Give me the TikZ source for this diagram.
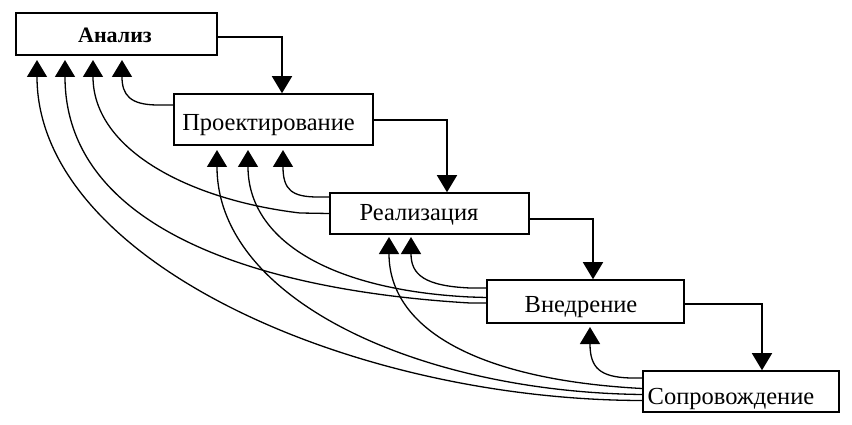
\documentclass[tikz,border=0pt]{standalone}
\usepackage{fontspec}
\setmainfont{Liberation Serif}
\usetikzlibrary{arrows.meta}
\begin{document}
\begin{tikzpicture}[x=1pt,y=-1pt,
  box/.style={draw, line width=1.6pt, inner sep=0pt, rectangle},
  lbl/.style={anchor=base, inner sep=0pt, font=\fontsize{24.5}{29}\selectfont},
  fwd/.style={line width=1.5pt, -{Triangle[width=20pt,length=17pt]}},
  fb/.style={line width=1.3pt, -{Triangle[width=20pt,length=17pt]}}]
\useasboundingbox (0,0) rectangle (852,425);
% boxes
\node[box, minimum width=201pt, minimum height=42pt] (an) at (116.5,34) {};
\node[box, minimum width=199pt, minimum height=51pt] (pr) at (273.5,119.5) {};
\node[box, minimum width=199pt, minimum height=41pt] (re) at (429.5,213.5) {};
\node[box, minimum width=197pt, minimum height=43pt] (vn) at (585.5,301.5) {};
\node[box, minimum width=196pt, minimum height=41pt] (so) at (741,391.5) {};
% labels
\node[lbl, font=\fontsize{22}{26}\selectfont\bfseries] (tan) at (115,43) {Анализ};
\node[lbl] (tpr) at (268.5,131) {Проектирование};
\node[lbl] (tre) at (419,221) {Реализация};
\node[lbl] (tvn) at (581,312) {Внедрение};
\node[lbl] (tso) at (731,404) {Сопровождение};
% forward connectors
\draw[fwd] ([yshift=-3pt]an.east) -| ([xshift=8.5pt]pr.north);
\draw[fwd] ([yshift=-0.5pt]pr.east) -| ([xshift=17.5pt]re.north);
\draw[fwd] ([yshift=-5.5pt]re.east) -| ([xshift=7.5pt]vn.north);
\draw[fwd] ([yshift=-2.5pt]vn.east) -| ([xshift=21pt]so.north);
% arrow tips of feedback connectors
\coordinate (ta1) at (122,60);
\coordinate (ta2) at (93,60);
\coordinate (ta3) at (65,60);
\coordinate (ta4) at (37,60);
\coordinate (tp1) at (283,150);
\coordinate (tp2) at (248,150);
\coordinate (tp3) at (217,150);
\coordinate (tr1) at (411,237);
\coordinate (tr2) at (389,237);
\coordinate (tv1) at (590,327);
% feedback connectors to Analysis
\draw[fb] ([yshift=14.5pt]pr.west) -- (158,105) .. controls (130,105) and (122,95) .. (ta1);
\draw[fb] (re.west) -- (300,213) .. controls (190,200) and (93,150) .. (ta2);
\draw[fb] ([yshift=-1.5pt]vn.west) -- (470,303) .. controls (250,290) and (65,225) .. (ta3);
\draw[fb] ([yshift=-9pt]so.west) .. controls (350,400) and (37,260) .. (ta4);
% feedback connectors to Design
\draw[fb] ([yshift=16.5pt]re.west) -- (318,197) .. controls (292,197) and (283,190) .. (tp1);
\draw[fb] ([yshift=4pt]vn.west) -- (470,297) .. controls (330,290) and (248,240) .. (tp2);
\draw[fb] ([yshift=-3pt]so.west) .. controls (420,392) and (217,300) .. (tp3);
% feedback connectors to Implementation
\draw[fb] ([yshift=13.5pt]vn.west) -- (470,288) .. controls (425,286) and (411,275) .. (tr1);
\draw[fb] ([yshift=3pt]so.west) .. controls (480,380) and (389,330) .. (tr2);
% feedback connector to Deployment
\draw[fb] ([yshift=13.5pt]so.west) -- (630,378) .. controls (600,377) and (590,368) .. (tv1);
\end{tikzpicture}
\end{document}
